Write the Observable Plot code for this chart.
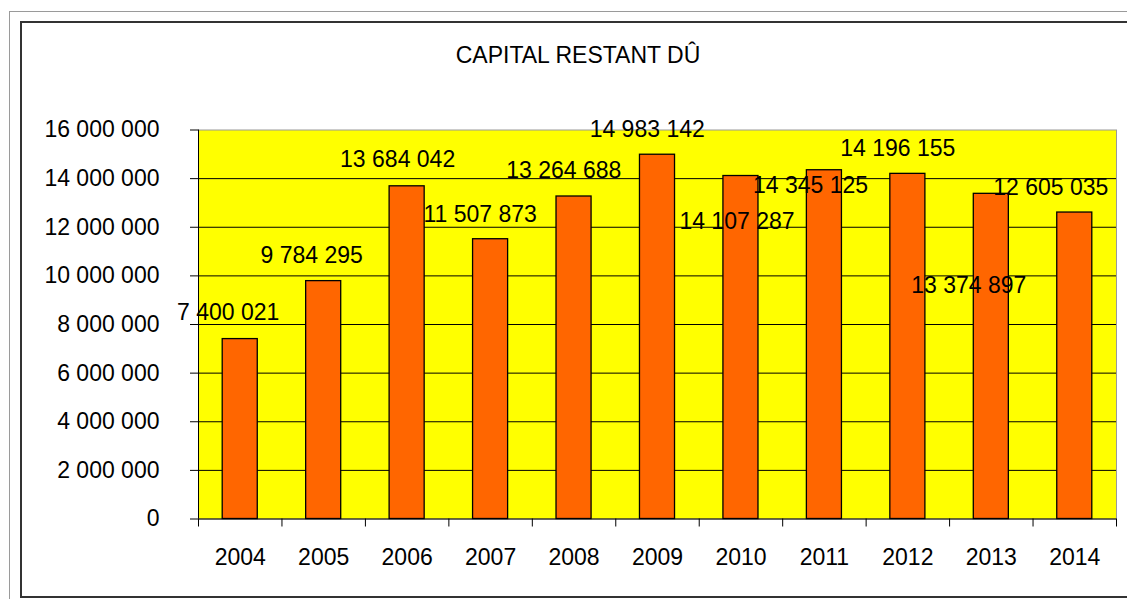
<!DOCTYPE html>
<html><head><meta charset="utf-8">
<script src="https://cdn.jsdelivr.net/npm/d3@7"></script>
<script src="https://cdn.jsdelivr.net/npm/@observablehq/plot@0.6"></script>
<style>
body{margin:0;background:#fff;}
#wrap{position:relative;width:1127px;height:599px;overflow:hidden;font-family:"Liberation Sans",Arial,sans-serif;}
.b{position:absolute;box-sizing:border-box;}
#outer{left:9px;top:11px;width:1140px;height:620px;border:1px solid #9a9a9a;}
#inner{left:20px;top:21px;width:1130px;height:577px;border:2px solid #333;}
#title{position:absolute;left:0;width:1156px;top:44px;text-align:center;font-size:23px;line-height:23px;color:#000;}
#chart{position:absolute;left:0;top:0;}
</style></head><body>
<div id="wrap"><div class="b" id="outer"></div><div class="b" id="inner"></div><div id="title"></div><div id="chart"></div></div>
<script>
const title = "CAPITAL RESTANT DÛ";
const years = ["2004","2005","2006","2007","2008","2009","2010","2011","2012","2013","2014"];
const capital = [7400021, 9784295, 13684042, 11507873, 13264688, 14983142, 14107287, 14345125, 14196155, 13374897, 12605035];
const yTicks = [0, 2000000, 4000000, 6000000, 8000000, 10000000, 12000000, 14000000, 16000000];
// value-label offsets from the top of each bar (pixels), as placed in the original
const labelDx = [-12, -12, -9.5, -10.5, -10.3, -10.3, -4, -13.8, -10, -22.5, -24];
const labelDy = [-26, -25.7, -26.4, -25, -25.7, -25.4, 46, 15.4, -25.4, 92, -25.4];

document.getElementById("title").textContent = title;

const W = 1127, H = 599, mL = 198, mR = 11, mT = 129.5, mB = 80.5;
const step = (W - mL - mR) / years.length;
const fmt = v => d3.format(",")(v).replace(/,/g, " ");
const data = years.map((year, i) => ({year, value: capital[i]}));

const plot = Plot.plot({
  width: W, height: H,
  marginLeft: mL, marginRight: mR, marginTop: mT, marginBottom: mB,
  style: {fontFamily: "Liberation Sans, Arial, sans-serif", fontSize: "23px", background: "transparent", color: "#000", overflow: "visible"},
  x: {domain: years, paddingInner: 0.58, paddingOuter: 0.29, round: false, axis: null, label: null},
  y: {domain: [0, 16000000], axis: null, label: null},
  marks: [
    Plot.frame({fill: "#FFFF00", stroke: "#999"}),
    Plot.gridY(yTicks.slice(1, -1), {stroke: "#000", strokeOpacity: 1}),
    Plot.axisY(yTicks, {tickSize: 8, tickPadding: 31, tickFormat: fmt, fontSize: 23, label: null}),
    Plot.axisX({tickSize: 0, tickPadding: 30, fontSize: 23, label: null}),
    Plot.axisX({tickSize: 8, tickFormat: () => "", dx: -step / 2, label: null}),
    Plot.axisX([years[years.length - 1]], {tickSize: 8, tickFormat: () => "", dx: step / 2, label: null}),
    Plot.ruleY([0], {stroke: "#000"}),
    Plot.ruleX([years[0]], {dx: -step / 2, stroke: "#000"}),
    Plot.barY(data, {x: "year", y: "value", fill: "#FF6600", stroke: "#000", strokeWidth: 1.3}),
    ...data.map((d, i) => Plot.text([d], {
      x: "year", y: "value", text: r => fmt(r.value),
      dx: labelDx[i], dy: labelDy[i], fontSize: 23, lineAnchor: "middle", fill: "#000"
    }))
  ]
});
document.getElementById("chart").appendChild(plot);
</script>
</body></html>
